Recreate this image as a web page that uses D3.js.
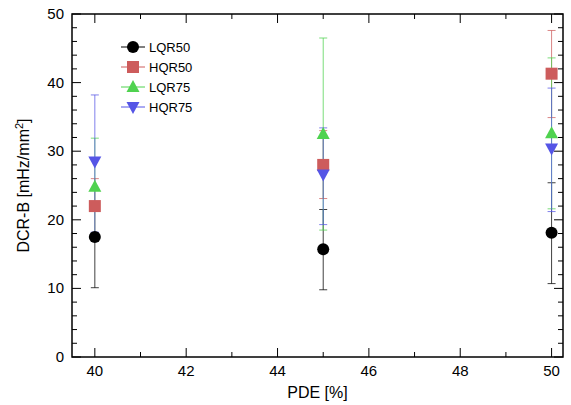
<html>
<head>
<script src="https://cdn.jsdelivr.net/npm/d3@7"></script>
<style>body{margin:0;background:#fff}text{font-family:"Liberation Sans",Arial,sans-serif}</style>
</head>
<body>
<div id="chart"></div>
<script>
var pde = [40, 45, 50];
var seriesNames = ["LQR50", "HQR50", "LQR75", "HQR75"];
var colors = ["#000000", "#cd5c5c", "#4fd24f", "#5555e6"];
var symbols = ["circle", "square", "up", "down"];
var values = [[17.5, 15.7, 18.1], [22.0, 28.0, 41.3], [24.8, 32.5, 32.6], [28.5, 26.6, 30.4]];
var errLow = [[10.1, 9.8, 10.7], [18.0, 23.1, 34.9], [18.0, 18.5, 21.6], [18.2, 19.3, 21.2]];
var errHigh = [[18.1, 21.5, 25.4], [26.0, 33.0, 47.6], [31.9, 46.5, 43.6], [38.2, 33.4, 39.2]];
var xTicks = [40, 42, 44, 46, 48, 50];
var yTicks = [0, 10, 20, 30, 40, 50];

var W = 571, H = 405, L = 72, R = 563, T = 14, B = 357;
var svg = d3.select("#chart").append("svg").attr("width", W).attr("height", H);
var x = d3.scaleLinear().domain([39.5, 50.25]).range([L, R]);
var y = d3.scaleLinear().domain([0, 50]).range([B, T]);

// ticks
var g = svg.append("g").attr("stroke", "#000");
d3.range(40, 50.01, 1).forEach(function(v) {
  var len = v % 2 === 0 ? 9 : 5;
  g.append("line").attr("x1", x(v)).attr("x2", x(v)).attr("y1", B).attr("y2", B - len);
  g.append("line").attr("x1", x(v)).attr("x2", x(v)).attr("y1", T).attr("y2", T + len);
});
d3.range(0, 50.01, 2).forEach(function(v) {
  var len = v % 10 === 0 ? 9 : 5;
  g.append("line").attr("y1", y(v)).attr("y2", y(v)).attr("x1", L).attr("x2", L + len);
  g.append("line").attr("y1", y(v)).attr("y2", y(v)).attr("x1", R).attr("x2", R - len);
});
svg.append("rect").attr("x", L).attr("y", T).attr("width", R - L).attr("height", B - T)
  .attr("fill", "none").attr("stroke", "#000").attr("stroke-width", 1.5);

svg.selectAll(".xt").data(xTicks).enter().append("text").attr("x", d => x(d)).attr("y", B + 19)
  .attr("text-anchor", "middle").attr("font-size", 15).text(d => d);
svg.selectAll(".yt").data(yTicks).enter().append("text").attr("x", L - 8).attr("y", d => y(d) + 5)
  .attr("text-anchor", "end").attr("font-size", 15).text(d => d);
svg.append("text").attr("x", (L + R) / 2).attr("y", 398).attr("text-anchor", "middle")
  .attr("font-size", 16).text("PDE [%]");
var yl = svg.append("text").attr("transform", "translate(29," + ((T + B) / 2) + ") rotate(-90)")
  .attr("text-anchor", "middle").attr("font-size", 16);
yl.append("tspan").text("DCR-B [mHz/mm");
yl.append("tspan").attr("font-size", 11).attr("dy", -6).text("2");
yl.append("tspan").attr("dy", 6).text("]");

function marker(sel, k, cx, cy) {
  var c = colors[k];
  if (symbols[k] === "circle") sel.append("circle").attr("cx", cx).attr("cy", cy).attr("r", 6).attr("fill", c);
  else if (symbols[k] === "square") sel.append("rect").attr("x", cx - 6).attr("y", cy - 6).attr("width", 12).attr("height", 12).attr("fill", c);
  else if (symbols[k] === "up") sel.append("path").attr("d", "M" + cx + "," + (cy - 7) + "L" + (cx + 6.5) + "," + (cy + 5) + "L" + (cx - 6.5) + "," + (cy + 5) + "Z").attr("fill", c);
  else sel.append("path").attr("d", "M" + cx + "," + (cy + 7) + "L" + (cx + 6.5) + "," + (cy - 5) + "L" + (cx - 6.5) + "," + (cy - 5) + "Z").attr("fill", c);
}

seriesNames.forEach(function(name, k) {
  var sg = svg.append("g").attr("stroke", colors[k]).attr("stroke-opacity", 0.75);
  pde.forEach(function(p, i) {
    var cx = x(p);
    sg.append("line").attr("x1", cx).attr("x2", cx).attr("y1", y(errLow[k][i])).attr("y2", y(errHigh[k][i]));
    [errLow[k][i], errHigh[k][i]].forEach(function(e) {
      sg.append("line").attr("x1", cx - 4).attr("x2", cx + 4).attr("y1", y(e)).attr("y2", y(e));
    });
  });
});
seriesNames.forEach(function(name, k) {
  var mg = svg.append("g");
  pde.forEach(function(p, i) { marker(mg, k, x(p), y(values[k][i])); });
  var ly = 47 + k * 20;
  svg.append("line").attr("x1", 121).attr("x2", 145).attr("y1", ly).attr("y2", ly).attr("stroke", colors[k]);
  marker(svg, k, 133, ly);
  svg.append("text").attr("x", 149).attr("y", ly + 5).attr("font-size", 13).text(name);
});
</script>
</body>
</html>
